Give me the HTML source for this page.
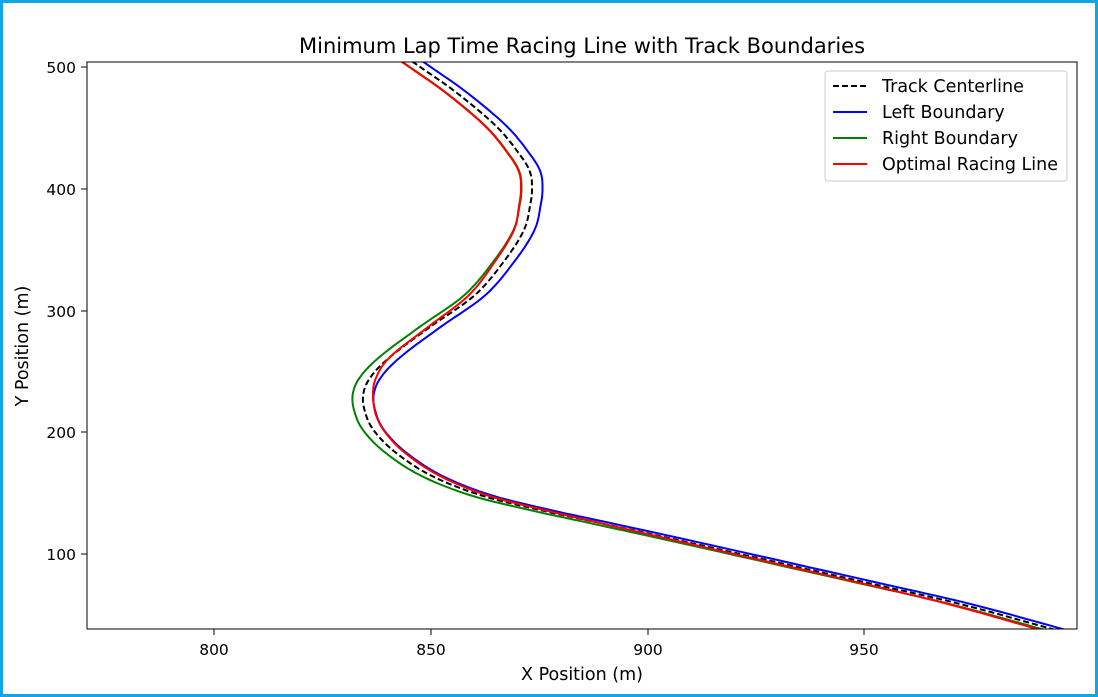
<!DOCTYPE html>
<html><head><meta charset="utf-8"><style>
body{margin:0;width:1098px;height:697px;overflow:hidden;background:#fff;font-family:"DejaVu Sans",sans-serif}
#f{position:absolute;left:0;top:0;width:1092px;height:691px;border:3px solid #0ea5e9}
</style></head><body><div id="f"></div>
<svg id="s" width="1098" height="697" style="position:absolute;left:0;top:0" font-family="DejaVu Sans, sans-serif">
<defs><clipPath id="c"><rect x="87" y="62" width="990" height="567"/></clipPath></defs>
<g id="curves" clip-path="url(#c)"></g>
<rect x="87" y="62" width="990" height="567" fill="none" stroke="#000" stroke-width="1"/>
<g stroke="#000" stroke-width="1">
<line x1="214" y1="629" x2="214" y2="635"/><line x1="431" y1="629" x2="431" y2="635"/><line x1="648" y1="629" x2="648" y2="635"/><line x1="864" y1="629" x2="864" y2="635"/>
<line x1="81" y1="67" x2="87" y2="67"/><line x1="81" y1="189" x2="87" y2="189"/><line x1="81" y1="311" x2="87" y2="311"/><line x1="81" y1="432" x2="87" y2="432"/><line x1="81" y1="554" x2="87" y2="554"/>
</g>
<g font-size="15.5" fill="#000" text-anchor="middle">
<text x="214" y="655">800</text><text x="431" y="655">850</text><text x="648" y="655">900</text><text x="864" y="655">950</text>
<text x="582" y="680" font-size="17.5">X Position (m)</text>
<text x="582" y="53" font-size="21">Minimum Lap Time Racing Line with Track Boundaries</text>
</g>
<g font-size="15.5" fill="#000" text-anchor="end">
<text x="76" y="73">500</text><text x="76" y="195">400</text><text x="76" y="317">300</text><text x="76" y="438">200</text><text x="76" y="560">100</text>
</g>
<text transform="translate(28,346) rotate(-90)" font-size="17.5" text-anchor="middle">Y Position (m)</text>
<rect x="825" y="71" width="242" height="110" fill="#fff" fill-opacity="0.8" stroke="#ccc" rx="3"/>
<g stroke-width="2">
<line x1="833" y1="86" x2="867" y2="86" stroke="#000" stroke-dasharray="6,3"/>
<line x1="833" y1="112" x2="867" y2="112" stroke="#00f"/>
<line x1="833" y1="138" x2="867" y2="138" stroke="#008000"/>
<line x1="833" y1="164" x2="867" y2="164" stroke="#f00"/>
</g>
<g font-size="17.5" fill="#000">
<text x="882" y="92">Track Centerline</text><text x="882" y="118">Left Boundary</text><text x="882" y="144">Right Boundary</text><text x="882" y="170">Optimal Racing Line</text>
</g>
</svg>
<script>
var P=[[405,56],[413,62],[457,93],[497,127],[520,155],[530,172],[532,189],[530,206],[524,230],[505,260],[475,295],[430,327],[390,357],[370,378],[363,396],[366,415],[375,432],[395,452],[430,475],[480,495],[540,510],[600,523],[700,545],[864,582],[960,604],[1052,629],[1070,634]];
var R=[-11,-11,-11,-11,-11,-11,-11,-11,-10,-9,-6,-2,0,6,10,10,10,9,8,6,4,0,-5,-8,-12,-15,-15];
function smooth(pts){var o=[];for(var i=0;i<pts.length-1;i++){var p0=pts[Math.max(0,i-1)],p1=pts[i],p2=pts[i+1],p3=pts[Math.min(pts.length-1,i+2)];for(var t=0;t<1;t+=0.1){var t2=t*t,t3=t2*t;var f=function(a,b,c,d){return 0.5*(2*b+(-a+c)*t+(2*a-5*b+4*c-d)*t2+(-a+3*b-3*c+d)*t3)};o.push([f(p0[0],p1[0],p2[0],p3[0]),f(p0[1],p1[1],p2[1],p3[1])]);}}o.push(pts[pts.length-1]);return o;}
var C=smooth(P);
var RO=smooth(R.map(function(r,i){return [r,i]})).map(function(a){return a[0]});
function off(k){return C.map(function(p,i){return [p[0]+(typeof k=="number"?k:k[i]),p[1]];});}
function d(p){return "M"+p.map(function(q){return q[0].toFixed(1)+","+q[1].toFixed(1)}).join(" L");}
var g=document.getElementById("curves");
g.innerHTML='<path d="'+d(C)+'" fill="none" stroke="#000" stroke-width="2" stroke-dasharray="6,3"/>'+
'<path d="'+d(off(10.5))+'" fill="none" stroke="#00f" stroke-width="2"/>'+
'<path d="'+d(off(-10.5))+'" fill="none" stroke="#008000" stroke-width="2"/>'+
'<path d="'+d(off(RO))+'" fill="none" stroke="#f00" stroke-width="2"/>';
</script>
</body></html>
